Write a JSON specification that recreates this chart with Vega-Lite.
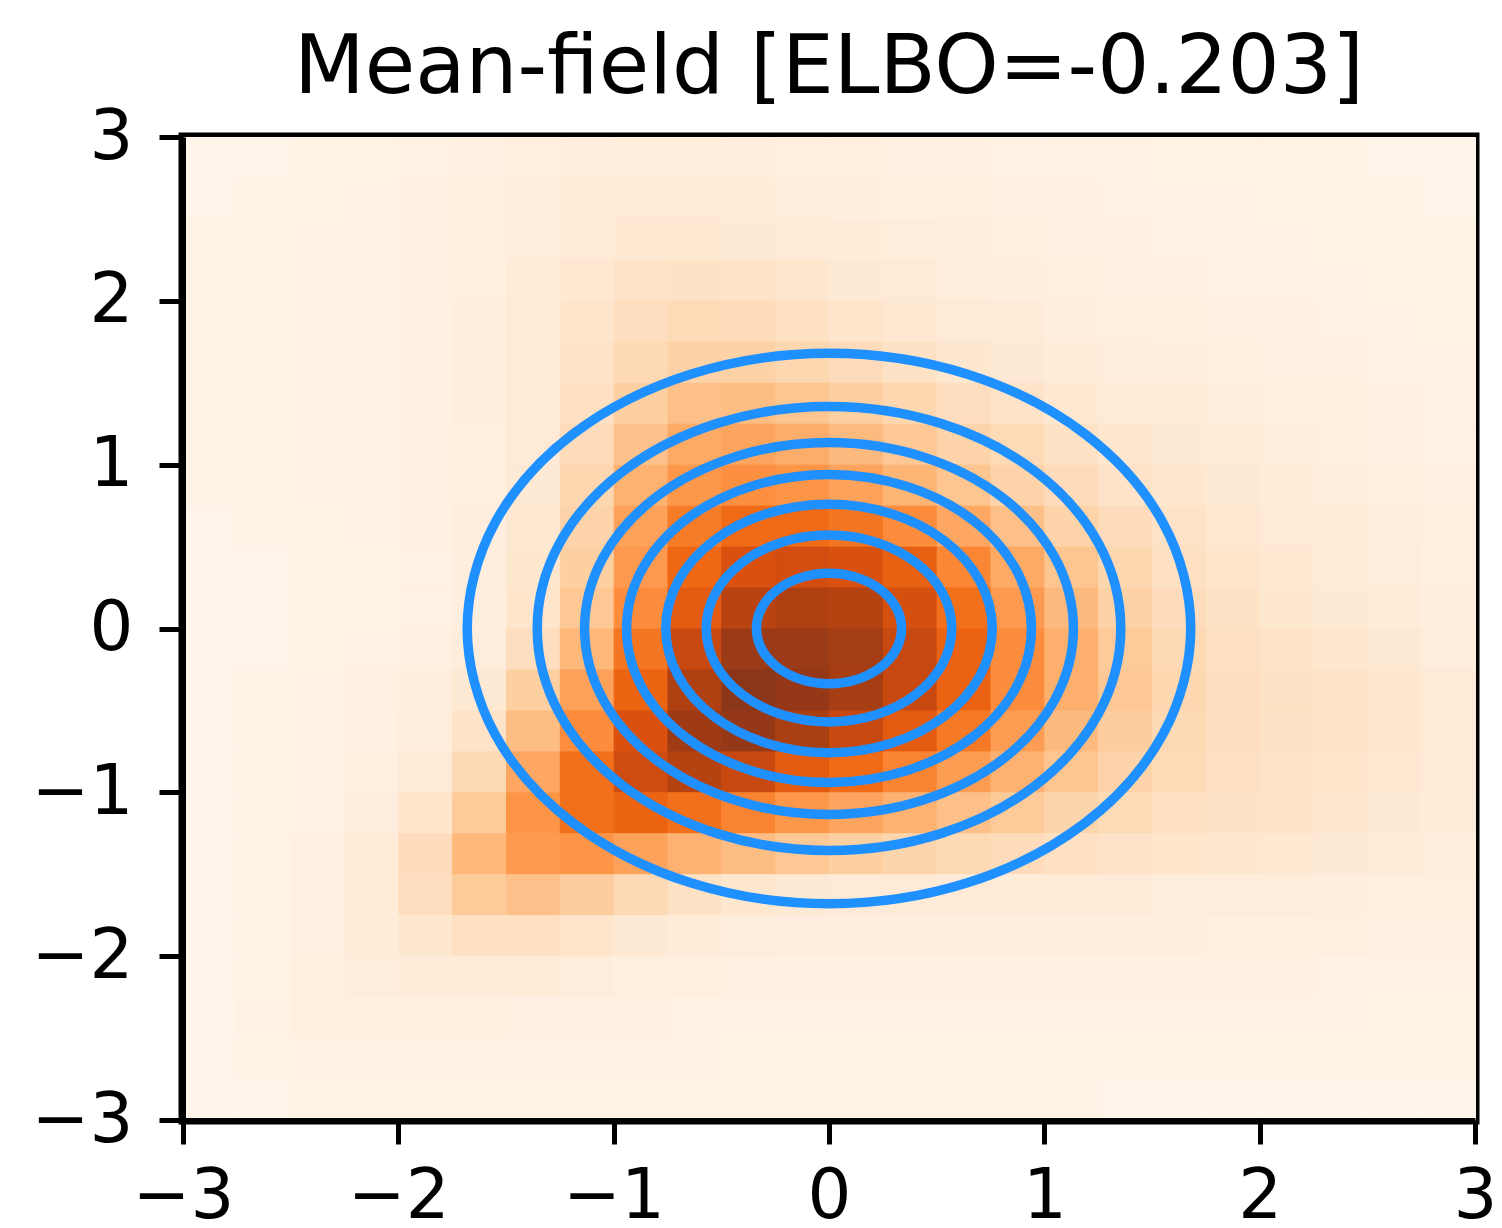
{
"$schema": "https://vega.github.io/schema/vega-lite/v6.json",
"width": 1292, "height": 983,
"autosize": {"type": "none"},
"padding": {"left": 183, "top": 137, "right": 27, "bottom": 108},
"background": "white",
"title": {"text": "Mean-field [ELBO=-0.203]", "fontSize": 82, "font": "DejaVu Sans", "fontWeight": "normal", "color": "black", "anchor": "middle", "baseline": "alphabetic", "offset": -72},
"config": {"view": {"stroke": "black", "strokeWidth": 9}, "axis": {"grid": false, "domain": true, "domainColor": "black", "domainWidth": 5, "labelFont": "DejaVu Sans", "labelFontSize": 69, "labelColor": "black", "tickColor": "black", "tickSize": 24, "tickWidth": 5, "labelFlush": false, "labelOverlap": false}},
"datasets": {
"grid": [
{"x":-3,"y":2.75,"v":0.01},{"x":-2.75,"y":2.75,"v":0.01},{"x":-2.5,"y":2.75,"v":0.02},{"x":-2.25,"y":2.75,"v":0.02},{"x":-2,"y":2.75,"v":0.03},{"x":-1.75,"y":2.75,"v":0.04},{"x":-1.5,"y":2.75,"v":0.05},{"x":-1.25,"y":2.75,"v":0.06},{"x":-1,"y":2.75,"v":0.07},{"x":-0.75,"y":2.75,"v":0.07},{"x":-0.5,"y":2.75,"v":0.06},{"x":-0.25,"y":2.75,"v":0.05},{"x":0,"y":2.75,"v":0.05},{"x":0.25,"y":2.75,"v":0.04},{"x":0.5,"y":2.75,"v":0.04},{"x":0.75,"y":2.75,"v":0.03},{"x":1,"y":2.75,"v":0.03},{"x":1.25,"y":2.75,"v":0.03},{"x":1.5,"y":2.75,"v":0.02},{"x":1.75,"y":2.75,"v":0.02},{"x":2,"y":2.75,"v":0.02},{"x":2.25,"y":2.75,"v":0.02},{"x":2.5,"y":2.75,"v":0.01},{"x":2.75,"y":2.75,"v":0.01},
{"x":-3,"y":2.5,"v":0.01},{"x":-2.75,"y":2.5,"v":0.02},{"x":-2.5,"y":2.5,"v":0.02},{"x":-2.25,"y":2.5,"v":0.03},{"x":-2,"y":2.5,"v":0.04},{"x":-1.75,"y":2.5,"v":0.05},{"x":-1.5,"y":2.5,"v":0.06},{"x":-1.25,"y":2.5,"v":0.08},{"x":-1,"y":2.5,"v":0.09},{"x":-0.75,"y":2.5,"v":0.09},{"x":-0.5,"y":2.5,"v":0.08},{"x":-0.25,"y":2.5,"v":0.07},{"x":0,"y":2.5,"v":0.06},{"x":0.25,"y":2.5,"v":0.05},{"x":0.5,"y":2.5,"v":0.05},{"x":0.75,"y":2.5,"v":0.04},{"x":1,"y":2.5,"v":0.04},{"x":1.25,"y":2.5,"v":0.03},{"x":1.5,"y":2.5,"v":0.03},{"x":1.75,"y":2.5,"v":0.03},{"x":2,"y":2.5,"v":0.02},{"x":2.25,"y":2.5,"v":0.02},{"x":2.5,"y":2.5,"v":0.02},{"x":2.75,"y":2.5,"v":0.01},
{"x":-3,"y":2.25,"v":0.02},{"x":-2.75,"y":2.25,"v":0.02},{"x":-2.5,"y":2.25,"v":0.03},{"x":-2.25,"y":2.25,"v":0.03},{"x":-2,"y":2.25,"v":0.04},{"x":-1.75,"y":2.25,"v":0.05},{"x":-1.5,"y":2.25,"v":0.07},{"x":-1.25,"y":2.25,"v":0.09},{"x":-1,"y":2.25,"v":0.11},{"x":-0.75,"y":2.25,"v":0.11},{"x":-0.5,"y":2.25,"v":0.1},{"x":-0.25,"y":2.25,"v":0.09},{"x":0,"y":2.25,"v":0.08},{"x":0.25,"y":2.25,"v":0.07},{"x":0.5,"y":2.25,"v":0.06},{"x":0.75,"y":2.25,"v":0.05},{"x":1,"y":2.25,"v":0.04},{"x":1.25,"y":2.25,"v":0.04},{"x":1.5,"y":2.25,"v":0.03},{"x":1.75,"y":2.25,"v":0.03},{"x":2,"y":2.25,"v":0.03},{"x":2.25,"y":2.25,"v":0.02},{"x":2.5,"y":2.25,"v":0.02},{"x":2.75,"y":2.25,"v":0.02},
{"x":-3,"y":2,"v":0.02},{"x":-2.75,"y":2,"v":0.02},{"x":-2.5,"y":2,"v":0.03},{"x":-2.25,"y":2,"v":0.03},{"x":-2,"y":2,"v":0.04},{"x":-1.75,"y":2,"v":0.05},{"x":-1.5,"y":2,"v":0.08},{"x":-1.25,"y":2,"v":0.11},{"x":-1,"y":2,"v":0.14},{"x":-0.75,"y":2,"v":0.15},{"x":-0.5,"y":2,"v":0.14},{"x":-0.25,"y":2,"v":0.12},{"x":0,"y":2,"v":0.1},{"x":0.25,"y":2,"v":0.09},{"x":0.5,"y":2,"v":0.07},{"x":0.75,"y":2,"v":0.06},{"x":1,"y":2,"v":0.05},{"x":1.25,"y":2,"v":0.04},{"x":1.5,"y":2,"v":0.04},{"x":1.75,"y":2,"v":0.03},{"x":2,"y":2,"v":0.03},{"x":2.25,"y":2,"v":0.03},{"x":2.5,"y":2,"v":0.02},{"x":2.75,"y":2,"v":0.02},
{"x":-3,"y":1.75,"v":0.02},{"x":-2.75,"y":1.75,"v":0.02},{"x":-2.5,"y":1.75,"v":0.03},{"x":-2.25,"y":1.75,"v":0.03},{"x":-2,"y":1.75,"v":0.04},{"x":-1.75,"y":1.75,"v":0.06},{"x":-1.5,"y":1.75,"v":0.09},{"x":-1.25,"y":1.75,"v":0.13},{"x":-1,"y":1.75,"v":0.17},{"x":-0.75,"y":1.75,"v":0.19},{"x":-0.5,"y":1.75,"v":0.18},{"x":-0.25,"y":1.75,"v":0.16},{"x":0,"y":1.75,"v":0.13},{"x":0.25,"y":1.75,"v":0.11},{"x":0.5,"y":1.75,"v":0.09},{"x":0.75,"y":1.75,"v":0.08},{"x":1,"y":1.75,"v":0.06},{"x":1.25,"y":1.75,"v":0.05},{"x":1.5,"y":1.75,"v":0.05},{"x":1.75,"y":1.75,"v":0.04},{"x":2,"y":1.75,"v":0.04},{"x":2.25,"y":1.75,"v":0.03},{"x":2.5,"y":1.75,"v":0.03},{"x":2.75,"y":1.75,"v":0.02},
{"x":-3,"y":1.5,"v":0.02},{"x":-2.75,"y":1.5,"v":0.02},{"x":-2.5,"y":1.5,"v":0.03},{"x":-2.25,"y":1.5,"v":0.03},{"x":-2,"y":1.5,"v":0.04},{"x":-1.75,"y":1.5,"v":0.06},{"x":-1.5,"y":1.5,"v":0.09},{"x":-1.25,"y":1.5,"v":0.14},{"x":-1,"y":1.5,"v":0.2},{"x":-0.75,"y":1.5,"v":0.24},{"x":-0.5,"y":1.5,"v":0.24},{"x":-0.25,"y":1.5,"v":0.21},{"x":0,"y":1.5,"v":0.18},{"x":0.25,"y":1.5,"v":0.15},{"x":0.5,"y":1.5,"v":0.12},{"x":0.75,"y":1.5,"v":0.1},{"x":1,"y":1.5,"v":0.08},{"x":1.25,"y":1.5,"v":0.07},{"x":1.5,"y":1.5,"v":0.06},{"x":1.75,"y":1.5,"v":0.05},{"x":2,"y":1.5,"v":0.04},{"x":2.25,"y":1.5,"v":0.04},{"x":2.5,"y":1.5,"v":0.03},{"x":2.75,"y":1.5,"v":0.03},
{"x":-3,"y":1.25,"v":0.02},{"x":-2.75,"y":1.25,"v":0.02},{"x":-2.5,"y":1.25,"v":0.03},{"x":-2.25,"y":1.25,"v":0.03},{"x":-2,"y":1.25,"v":0.04},{"x":-1.75,"y":1.25,"v":0.06},{"x":-1.5,"y":1.25,"v":0.09},{"x":-1.25,"y":1.25,"v":0.16},{"x":-1,"y":1.25,"v":0.25},{"x":-0.75,"y":1.25,"v":0.31},{"x":-0.5,"y":1.25,"v":0.32},{"x":-0.25,"y":1.25,"v":0.29},{"x":0,"y":1.25,"v":0.25},{"x":0.25,"y":1.25,"v":0.21},{"x":0.5,"y":1.25,"v":0.17},{"x":0.75,"y":1.25,"v":0.14},{"x":1,"y":1.25,"v":0.11},{"x":1.25,"y":1.25,"v":0.09},{"x":1.5,"y":1.25,"v":0.08},{"x":1.75,"y":1.25,"v":0.06},{"x":2,"y":1.25,"v":0.05},{"x":2.25,"y":1.25,"v":0.05},{"x":2.5,"y":1.25,"v":0.04},{"x":2.75,"y":1.25,"v":0.03},
{"x":-3,"y":1,"v":0.02},{"x":-2.75,"y":1,"v":0.02},{"x":-2.5,"y":1,"v":0.03},{"x":-2.25,"y":1,"v":0.03},{"x":-2,"y":1,"v":0.04},{"x":-1.75,"y":1,"v":0.05},{"x":-1.5,"y":1,"v":0.09},{"x":-1.25,"y":1,"v":0.18},{"x":-1,"y":1,"v":0.3},{"x":-0.75,"y":1,"v":0.39},{"x":-0.5,"y":1,"v":0.41},{"x":-0.25,"y":1,"v":0.38},{"x":0,"y":1,"v":0.33},{"x":0.25,"y":1,"v":0.28},{"x":0.5,"y":1,"v":0.23},{"x":0.75,"y":1,"v":0.19},{"x":1,"y":1,"v":0.15},{"x":1.25,"y":1,"v":0.12},{"x":1.5,"y":1,"v":0.1},{"x":1.75,"y":1,"v":0.08},{"x":2,"y":1,"v":0.07},{"x":2.25,"y":1,"v":0.05},{"x":2.5,"y":1,"v":0.04},{"x":2.75,"y":1,"v":0.03},
{"x":-3,"y":0.75,"v":0.02},{"x":-2.75,"y":0.75,"v":0.02},{"x":-2.5,"y":0.75,"v":0.03},{"x":-2.25,"y":0.75,"v":0.03},{"x":-2,"y":0.75,"v":0.04},{"x":-1.75,"y":0.75,"v":0.05},{"x":-1.5,"y":0.75,"v":0.1},{"x":-1.25,"y":0.75,"v":0.21},{"x":-1,"y":0.75,"v":0.36},{"x":-0.75,"y":0.75,"v":0.46},{"x":-0.5,"y":0.75,"v":0.49},{"x":-0.25,"y":0.75,"v":0.47},{"x":0,"y":0.75,"v":0.42},{"x":0.25,"y":0.75,"v":0.35},{"x":0.5,"y":0.75,"v":0.29},{"x":0.75,"y":0.75,"v":0.23},{"x":1,"y":0.75,"v":0.18},{"x":1.25,"y":0.75,"v":0.14},{"x":1.5,"y":0.75,"v":0.12},{"x":1.75,"y":0.75,"v":0.1},{"x":2,"y":0.75,"v":0.08},{"x":2.25,"y":0.75,"v":0.06},{"x":2.5,"y":0.75,"v":0.05},{"x":2.75,"y":0.75,"v":0.04},
{"x":-3,"y":0.5,"v":0.01},{"x":-2.75,"y":0.5,"v":0.02},{"x":-2.5,"y":0.5,"v":0.02},{"x":-2.25,"y":0.5,"v":0.03},{"x":-2,"y":0.5,"v":0.04},{"x":-1.75,"y":0.5,"v":0.06},{"x":-1.5,"y":0.5,"v":0.11},{"x":-1.25,"y":0.5,"v":0.23},{"x":-1,"y":0.5,"v":0.42},{"x":-0.75,"y":0.5,"v":0.56},{"x":-0.5,"y":0.5,"v":0.62},{"x":-0.25,"y":0.5,"v":0.62},{"x":0,"y":0.5,"v":0.58},{"x":0.25,"y":0.5,"v":0.5},{"x":0.5,"y":0.5,"v":0.4},{"x":0.75,"y":0.5,"v":0.31},{"x":1,"y":0.5,"v":0.23},{"x":1.25,"y":0.5,"v":0.18},{"x":1.5,"y":0.5,"v":0.14},{"x":1.75,"y":0.5,"v":0.11},{"x":2,"y":0.5,"v":0.09},{"x":2.25,"y":0.5,"v":0.08},{"x":2.5,"y":0.5,"v":0.06},{"x":2.75,"y":0.5,"v":0.05},
{"x":-3,"y":0.25,"v":0.01},{"x":-2.75,"y":0.25,"v":0.01},{"x":-2.5,"y":0.25,"v":0.02},{"x":-2.25,"y":0.25,"v":0.02},{"x":-2,"y":0.25,"v":0.03},{"x":-1.75,"y":0.25,"v":0.06},{"x":-1.5,"y":0.25,"v":0.12},{"x":-1.25,"y":0.25,"v":0.25},{"x":-1,"y":0.25,"v":0.45},{"x":-0.75,"y":0.25,"v":0.63},{"x":-0.5,"y":0.25,"v":0.75},{"x":-0.25,"y":0.25,"v":0.77},{"x":0,"y":0.25,"v":0.75},{"x":0.25,"y":0.25,"v":0.67},{"x":0.5,"y":0.25,"v":0.52},{"x":0.75,"y":0.25,"v":0.39},{"x":1,"y":0.25,"v":0.29},{"x":1.25,"y":0.25,"v":0.21},{"x":1.5,"y":0.25,"v":0.16},{"x":1.75,"y":0.25,"v":0.13},{"x":2,"y":0.25,"v":0.11},{"x":2.25,"y":0.25,"v":0.09},{"x":2.5,"y":0.25,"v":0.07},{"x":2.75,"y":0.25,"v":0.05},
{"x":-3,"y":0,"v":0.01},{"x":-2.75,"y":0,"v":0.01},{"x":-2.5,"y":0,"v":0.02},{"x":-2.25,"y":0,"v":0.02},{"x":-2,"y":0,"v":0.03},{"x":-1.75,"y":0,"v":0.06},{"x":-1.5,"y":0,"v":0.13},{"x":-1.25,"y":0,"v":0.28},{"x":-1,"y":0,"v":0.5},{"x":-0.75,"y":0,"v":0.7},{"x":-0.5,"y":0,"v":0.84},{"x":-0.25,"y":0,"v":0.87},{"x":0,"y":0,"v":0.85},{"x":0.25,"y":0,"v":0.76},{"x":0.5,"y":0,"v":0.6},{"x":0.75,"y":0,"v":0.45},{"x":1,"y":0,"v":0.33},{"x":1.25,"y":0,"v":0.24},{"x":1.5,"y":0,"v":0.18},{"x":1.75,"y":0,"v":0.15},{"x":2,"y":0,"v":0.12},{"x":2.25,"y":0,"v":0.1},{"x":2.5,"y":0,"v":0.08},{"x":2.75,"y":0,"v":0.06},
{"x":-3,"y":-0.25,"v":0.01},{"x":-2.75,"y":-0.25,"v":0.01},{"x":-2.5,"y":-0.25,"v":0.02},{"x":-2.25,"y":-0.25,"v":0.03},{"x":-2,"y":-0.25,"v":0.04},{"x":-1.75,"y":-0.25,"v":0.07},{"x":-1.5,"y":-0.25,"v":0.17},{"x":-1.25,"y":-0.25,"v":0.34},{"x":-1,"y":-0.25,"v":0.58},{"x":-0.75,"y":-0.25,"v":0.8},{"x":-0.5,"y":-0.25,"v":0.93},{"x":-0.25,"y":-0.25,"v":0.93},{"x":0,"y":-0.25,"v":0.9},{"x":0.25,"y":-0.25,"v":0.8},{"x":0.5,"y":-0.25,"v":0.66},{"x":0.75,"y":-0.25,"v":0.5},{"x":1,"y":-0.25,"v":0.37},{"x":1.25,"y":-0.25,"v":0.27},{"x":1.5,"y":-0.25,"v":0.2},{"x":1.75,"y":-0.25,"v":0.16},{"x":2,"y":-0.25,"v":0.14},{"x":2.25,"y":-0.25,"v":0.12},{"x":2.5,"y":-0.25,"v":0.1},{"x":2.75,"y":-0.25,"v":0.07},
{"x":-3,"y":-0.5,"v":0.01},{"x":-2.75,"y":-0.5,"v":0.02},{"x":-2.5,"y":-0.5,"v":0.03},{"x":-2.25,"y":-0.5,"v":0.04},{"x":-2,"y":-0.5,"v":0.06},{"x":-1.75,"y":-0.5,"v":0.1},{"x":-1.5,"y":-0.5,"v":0.25},{"x":-1.25,"y":-0.5,"v":0.42},{"x":-1,"y":-0.5,"v":0.65},{"x":-0.75,"y":-0.5,"v":0.87},{"x":-0.5,"y":-0.5,"v":0.98},{"x":-0.25,"y":-0.5,"v":0.95},{"x":0,"y":-0.5,"v":0.89},{"x":0.25,"y":-0.5,"v":0.8},{"x":0.5,"y":-0.5,"v":0.66},{"x":0.75,"y":-0.5,"v":0.5},{"x":1,"y":-0.5,"v":0.37},{"x":1.25,"y":-0.5,"v":0.28},{"x":1.5,"y":-0.5,"v":0.21},{"x":1.75,"y":-0.5,"v":0.17},{"x":2,"y":-0.5,"v":0.15},{"x":2.25,"y":-0.5,"v":0.14},{"x":2.5,"y":-0.5,"v":0.12},{"x":2.75,"y":-0.5,"v":0.09},
{"x":-3,"y":-0.75,"v":0.01},{"x":-2.75,"y":-0.75,"v":0.02},{"x":-2.5,"y":-0.75,"v":0.03},{"x":-2.25,"y":-0.75,"v":0.04},{"x":-2,"y":-0.75,"v":0.07},{"x":-1.75,"y":-0.75,"v":0.14},{"x":-1.5,"y":-0.75,"v":0.32},{"x":-1.25,"y":-0.75,"v":0.5},{"x":-1,"y":-0.75,"v":0.75},{"x":-0.75,"y":-0.75,"v":0.92},{"x":-0.5,"y":-0.75,"v":0.95},{"x":-0.25,"y":-0.75,"v":0.88},{"x":0,"y":-0.75,"v":0.8},{"x":0.25,"y":-0.75,"v":0.7},{"x":0.5,"y":-0.75,"v":0.57},{"x":0.75,"y":-0.75,"v":0.44},{"x":1,"y":-0.75,"v":0.33},{"x":1.25,"y":-0.75,"v":0.26},{"x":1.5,"y":-0.75,"v":0.2},{"x":1.75,"y":-0.75,"v":0.17},{"x":2,"y":-0.75,"v":0.15},{"x":2.25,"y":-0.75,"v":0.14},{"x":2.5,"y":-0.75,"v":0.12},{"x":2.75,"y":-0.75,"v":0.09},
{"x":-3,"y":-1,"v":0.01},{"x":-2.75,"y":-1,"v":0.02},{"x":-2.5,"y":-1,"v":0.03},{"x":-2.25,"y":-1,"v":0.05},{"x":-2,"y":-1,"v":0.09},{"x":-1.75,"y":-1,"v":0.2},{"x":-1.5,"y":-1,"v":0.4},{"x":-1.25,"y":-1,"v":0.6},{"x":-1,"y":-1,"v":0.78},{"x":-0.75,"y":-1,"v":0.85},{"x":-0.5,"y":-1,"v":0.8},{"x":-0.25,"y":-1,"v":0.7},{"x":0,"y":-1,"v":0.62},{"x":0.25,"y":-1,"v":0.53},{"x":0.5,"y":-1,"v":0.44},{"x":0.75,"y":-1,"v":0.36},{"x":1,"y":-1,"v":0.29},{"x":1.25,"y":-1,"v":0.23},{"x":1.5,"y":-1,"v":0.19},{"x":1.75,"y":-1,"v":0.16},{"x":2,"y":-1,"v":0.14},{"x":2.25,"y":-1,"v":0.13},{"x":2.5,"y":-1,"v":0.11},{"x":2.75,"y":-1,"v":0.09},
{"x":-3,"y":-1.25,"v":0.01},{"x":-2.75,"y":-1.25,"v":0.02},{"x":-2.5,"y":-1.25,"v":0.03},{"x":-2.25,"y":-1.25,"v":0.06},{"x":-2,"y":-1.25,"v":0.13},{"x":-1.75,"y":-1.25,"v":0.27},{"x":-1.5,"y":-1.25,"v":0.47},{"x":-1.25,"y":-1.25,"v":0.6},{"x":-1,"y":-1.25,"v":0.65},{"x":-0.75,"y":-1.25,"v":0.6},{"x":-0.5,"y":-1.25,"v":0.53},{"x":-0.25,"y":-1.25,"v":0.46},{"x":0,"y":-1.25,"v":0.41},{"x":0.25,"y":-1.25,"v":0.36},{"x":0.5,"y":-1.25,"v":0.31},{"x":0.75,"y":-1.25,"v":0.27},{"x":1,"y":-1.25,"v":0.22},{"x":1.25,"y":-1.25,"v":0.19},{"x":1.5,"y":-1.25,"v":0.16},{"x":1.75,"y":-1.25,"v":0.15},{"x":2,"y":-1.25,"v":0.14},{"x":2.25,"y":-1.25,"v":0.12},{"x":2.5,"y":-1.25,"v":0.1},{"x":2.75,"y":-1.25,"v":0.08},
{"x":-3,"y":-1.5,"v":0.01},{"x":-2.75,"y":-1.5,"v":0.02},{"x":-2.5,"y":-1.5,"v":0.04},{"x":-2.25,"y":-1.5,"v":0.08},{"x":-2,"y":-1.5,"v":0.18},{"x":-1.75,"y":-1.5,"v":0.34},{"x":-1.5,"y":-1.5,"v":0.45},{"x":-1.25,"y":-1.5,"v":0.47},{"x":-1,"y":-1.5,"v":0.42},{"x":-0.75,"y":-1.5,"v":0.36},{"x":-0.5,"y":-1.5,"v":0.32},{"x":-0.25,"y":-1.5,"v":0.28},{"x":0,"y":-1.5,"v":0.25},{"x":0.25,"y":-1.5,"v":0.22},{"x":0.5,"y":-1.5,"v":0.2},{"x":0.75,"y":-1.5,"v":0.18},{"x":1,"y":-1.5,"v":0.16},{"x":1.25,"y":-1.5,"v":0.14},{"x":1.5,"y":-1.5,"v":0.13},{"x":1.75,"y":-1.5,"v":0.12},{"x":2,"y":-1.5,"v":0.11},{"x":2.25,"y":-1.5,"v":0.1},{"x":2.5,"y":-1.5,"v":0.09},{"x":2.75,"y":-1.5,"v":0.07},
{"x":-3,"y":-1.75,"v":0.01},{"x":-2.75,"y":-1.75,"v":0.02},{"x":-2.5,"y":-1.75,"v":0.04},{"x":-2.25,"y":-1.75,"v":0.08},{"x":-2,"y":-1.75,"v":0.17},{"x":-1.75,"y":-1.75,"v":0.27},{"x":-1.5,"y":-1.75,"v":0.3},{"x":-1.25,"y":-1.75,"v":0.26},{"x":-1,"y":-1.75,"v":0.2},{"x":-0.75,"y":-1.75,"v":0.15},{"x":-0.5,"y":-1.75,"v":0.12},{"x":-0.25,"y":-1.75,"v":0.1},{"x":0,"y":-1.75,"v":0.09},{"x":0.25,"y":-1.75,"v":0.09},{"x":0.5,"y":-1.75,"v":0.09},{"x":0.75,"y":-1.75,"v":0.08},{"x":1,"y":-1.75,"v":0.08},{"x":1.25,"y":-1.75,"v":0.08},{"x":1.5,"y":-1.75,"v":0.07},{"x":1.75,"y":-1.75,"v":0.07},{"x":2,"y":-1.75,"v":0.07},{"x":2.25,"y":-1.75,"v":0.06},{"x":2.5,"y":-1.75,"v":0.05},{"x":2.75,"y":-1.75,"v":0.05},
{"x":-3,"y":-2,"v":0.01},{"x":-2.75,"y":-2,"v":0.02},{"x":-2.5,"y":-2,"v":0.04},{"x":-2.25,"y":-2,"v":0.08},{"x":-2,"y":-2,"v":0.12},{"x":-1.75,"y":-2,"v":0.16},{"x":-1.5,"y":-2,"v":0.16},{"x":-1.25,"y":-2,"v":0.13},{"x":-1,"y":-2,"v":0.1},{"x":-0.75,"y":-2,"v":0.08},{"x":-0.5,"y":-2,"v":0.07},{"x":-0.25,"y":-2,"v":0.06},{"x":0,"y":-2,"v":0.06},{"x":0.25,"y":-2,"v":0.06},{"x":0.5,"y":-2,"v":0.06},{"x":0.75,"y":-2,"v":0.06},{"x":1,"y":-2,"v":0.06},{"x":1.25,"y":-2,"v":0.06},{"x":1.5,"y":-2,"v":0.06},{"x":1.75,"y":-2,"v":0.05},{"x":2,"y":-2,"v":0.05},{"x":2.25,"y":-2,"v":0.05},{"x":2.5,"y":-2,"v":0.04},{"x":2.75,"y":-2,"v":0.04},
{"x":-3,"y":-2.25,"v":0.01},{"x":-2.75,"y":-2.25,"v":0.02},{"x":-2.5,"y":-2.25,"v":0.05},{"x":-2.25,"y":-2.25,"v":0.07},{"x":-2,"y":-2.25,"v":0.08},{"x":-1.75,"y":-2.25,"v":0.08},{"x":-1.5,"y":-2.25,"v":0.08},{"x":-1.25,"y":-2.25,"v":0.07},{"x":-1,"y":-2.25,"v":0.05},{"x":-0.75,"y":-2.25,"v":0.05},{"x":-0.5,"y":-2.25,"v":0.04},{"x":-0.25,"y":-2.25,"v":0.04},{"x":0,"y":-2.25,"v":0.04},{"x":0.25,"y":-2.25,"v":0.04},{"x":0.5,"y":-2.25,"v":0.04},{"x":0.75,"y":-2.25,"v":0.04},{"x":1,"y":-2.25,"v":0.04},{"x":1.25,"y":-2.25,"v":0.04},{"x":1.5,"y":-2.25,"v":0.04},{"x":1.75,"y":-2.25,"v":0.04},{"x":2,"y":-2.25,"v":0.04},{"x":2.25,"y":-2.25,"v":0.03},{"x":2.5,"y":-2.25,"v":0.03},{"x":2.75,"y":-2.25,"v":0.03},
{"x":-3,"y":-2.5,"v":0.01},{"x":-2.75,"y":-2.5,"v":0.03},{"x":-2.5,"y":-2.5,"v":0.05},{"x":-2.25,"y":-2.5,"v":0.05},{"x":-2,"y":-2.5,"v":0.05},{"x":-1.75,"y":-2.5,"v":0.05},{"x":-1.5,"y":-2.5,"v":0.04},{"x":-1.25,"y":-2.5,"v":0.04},{"x":-1,"y":-2.5,"v":0.04},{"x":-0.75,"y":-2.5,"v":0.03},{"x":-0.5,"y":-2.5,"v":0.03},{"x":-0.25,"y":-2.5,"v":0.03},{"x":0,"y":-2.5,"v":0.03},{"x":0.25,"y":-2.5,"v":0.03},{"x":0.5,"y":-2.5,"v":0.03},{"x":0.75,"y":-2.5,"v":0.03},{"x":1,"y":-2.5,"v":0.03},{"x":1.25,"y":-2.5,"v":0.03},{"x":1.5,"y":-2.5,"v":0.03},{"x":1.75,"y":-2.5,"v":0.03},{"x":2,"y":-2.5,"v":0.03},{"x":2.25,"y":-2.5,"v":0.03},{"x":2.5,"y":-2.5,"v":0.02},{"x":2.75,"y":-2.5,"v":0.02},
{"x":-3,"y":-2.75,"v":0.01},{"x":-2.75,"y":-2.75,"v":0.02},{"x":-2.5,"y":-2.75,"v":0.03},{"x":-2.25,"y":-2.75,"v":0.03},{"x":-2,"y":-2.75,"v":0.03},{"x":-1.75,"y":-2.75,"v":0.03},{"x":-1.5,"y":-2.75,"v":0.03},{"x":-1.25,"y":-2.75,"v":0.03},{"x":-1,"y":-2.75,"v":0.03},{"x":-0.75,"y":-2.75,"v":0.03},{"x":-0.5,"y":-2.75,"v":0.02},{"x":-0.25,"y":-2.75,"v":0.02},{"x":0,"y":-2.75,"v":0.02},{"x":0.25,"y":-2.75,"v":0.02},{"x":0.5,"y":-2.75,"v":0.02},{"x":0.75,"y":-2.75,"v":0.02},{"x":1,"y":-2.75,"v":0.02},{"x":1.25,"y":-2.75,"v":0.02},{"x":1.5,"y":-2.75,"v":0.02},{"x":1.75,"y":-2.75,"v":0.02},{"x":2,"y":-2.75,"v":0.02},{"x":2.25,"y":-2.75,"v":0.02},{"x":2.5,"y":-2.75,"v":0.02},{"x":2.75,"y":-2.75,"v":0.02},
{"x":-3,"y":-3,"v":0.01},{"x":-2.75,"y":-3,"v":0.01},{"x":-2.5,"y":-3,"v":0.02},{"x":-2.25,"y":-3,"v":0.02},{"x":-2,"y":-3,"v":0.02},{"x":-1.75,"y":-3,"v":0.02},{"x":-1.5,"y":-3,"v":0.02},{"x":-1.25,"y":-3,"v":0.02},{"x":-1,"y":-3,"v":0.02},{"x":-0.75,"y":-3,"v":0.02},{"x":-0.5,"y":-3,"v":0.02},{"x":-0.25,"y":-3,"v":0.02},{"x":0,"y":-3,"v":0.02},{"x":0.25,"y":-3,"v":0.02},{"x":0.5,"y":-3,"v":0.02},{"x":0.75,"y":-3,"v":0.02},{"x":1,"y":-3,"v":0.02},{"x":1.25,"y":-3,"v":0.01},{"x":1.5,"y":-3,"v":0.01},{"x":1.75,"y":-3,"v":0.01},{"x":2,"y":-3,"v":0.01},{"x":2.25,"y":-3,"v":0.01},{"x":2.5,"y":-3,"v":0.01},{"x":2.75,"y":-3,"v":0.01}
],
"rings": [
{"c":1,"k":0,"x":1.68,"y":0},{"c":1,"k":1,"x":1.5522,"y":0.6429},{"c":1,"k":2,"x":1.1879,"y":1.1879},{"c":1,"k":3,"x":0.6429,"y":1.5522},{"c":1,"k":4,"x":0,"y":1.68},{"c":1,"k":5,"x":-0.6429,"y":1.5522},{"c":1,"k":6,"x":-1.1879,"y":1.1879},{"c":1,"k":7,"x":-1.5522,"y":0.6429},{"c":1,"k":8,"x":-1.68,"y":0},{"c":1,"k":9,"x":-1.5522,"y":-0.6429},{"c":1,"k":10,"x":-1.1879,"y":-1.1879},{"c":1,"k":11,"x":-0.6429,"y":-1.5522},{"c":1,"k":12,"x":0,"y":-1.68},{"c":1,"k":13,"x":0.6429,"y":-1.5522},{"c":1,"k":14,"x":1.1879,"y":-1.1879},{"c":1,"k":15,"x":1.5522,"y":-0.6429},
{"c":2,"k":0,"x":1.355,"y":0},{"c":2,"k":1,"x":1.2519,"y":0.5186},{"c":2,"k":2,"x":0.9581,"y":0.9581},{"c":2,"k":3,"x":0.5186,"y":1.2519},{"c":2,"k":4,"x":0,"y":1.355},{"c":2,"k":5,"x":-0.5186,"y":1.2519},{"c":2,"k":6,"x":-0.9581,"y":0.9581},{"c":2,"k":7,"x":-1.2519,"y":0.5186},{"c":2,"k":8,"x":-1.355,"y":0},{"c":2,"k":9,"x":-1.2519,"y":-0.5186},{"c":2,"k":10,"x":-0.9581,"y":-0.9581},{"c":2,"k":11,"x":-0.5186,"y":-1.2519},{"c":2,"k":12,"x":0,"y":-1.355},{"c":2,"k":13,"x":0.5186,"y":-1.2519},{"c":2,"k":14,"x":0.9581,"y":-0.9581},{"c":2,"k":15,"x":1.2519,"y":-0.5186},
{"c":3,"k":0,"x":1.135,"y":0},{"c":3,"k":1,"x":1.0486,"y":0.4344},{"c":3,"k":2,"x":0.8026,"y":0.8026},{"c":3,"k":3,"x":0.4344,"y":1.0486},{"c":3,"k":4,"x":0,"y":1.135},{"c":3,"k":5,"x":-0.4344,"y":1.0486},{"c":3,"k":6,"x":-0.8026,"y":0.8026},{"c":3,"k":7,"x":-1.0486,"y":0.4344},{"c":3,"k":8,"x":-1.135,"y":0},{"c":3,"k":9,"x":-1.0486,"y":-0.4344},{"c":3,"k":10,"x":-0.8026,"y":-0.8026},{"c":3,"k":11,"x":-0.4344,"y":-1.0486},{"c":3,"k":12,"x":0,"y":-1.135},{"c":3,"k":13,"x":0.4344,"y":-1.0486},{"c":3,"k":14,"x":0.8026,"y":-0.8026},{"c":3,"k":15,"x":1.0486,"y":-0.4344},
{"c":4,"k":0,"x":0.94,"y":0},{"c":4,"k":1,"x":0.8685,"y":0.3597},{"c":4,"k":2,"x":0.6647,"y":0.6647},{"c":4,"k":3,"x":0.3597,"y":0.8685},{"c":4,"k":4,"x":0,"y":0.94},{"c":4,"k":5,"x":-0.3597,"y":0.8685},{"c":4,"k":6,"x":-0.6647,"y":0.6647},{"c":4,"k":7,"x":-0.8685,"y":0.3597},{"c":4,"k":8,"x":-0.94,"y":0},{"c":4,"k":9,"x":-0.8685,"y":-0.3597},{"c":4,"k":10,"x":-0.6647,"y":-0.6647},{"c":4,"k":11,"x":-0.3597,"y":-0.8685},{"c":4,"k":12,"x":0,"y":-0.94},{"c":4,"k":13,"x":0.3597,"y":-0.8685},{"c":4,"k":14,"x":0.6647,"y":-0.6647},{"c":4,"k":15,"x":0.8685,"y":-0.3597},
{"c":5,"k":0,"x":0.758,"y":0},{"c":5,"k":1,"x":0.7003,"y":0.2901},{"c":5,"k":2,"x":0.536,"y":0.536},{"c":5,"k":3,"x":0.2901,"y":0.7003},{"c":5,"k":4,"x":0,"y":0.758},{"c":5,"k":5,"x":-0.2901,"y":0.7003},{"c":5,"k":6,"x":-0.536,"y":0.536},{"c":5,"k":7,"x":-0.7003,"y":0.2901},{"c":5,"k":8,"x":-0.758,"y":0},{"c":5,"k":9,"x":-0.7003,"y":-0.2901},{"c":5,"k":10,"x":-0.536,"y":-0.536},{"c":5,"k":11,"x":-0.2901,"y":-0.7003},{"c":5,"k":12,"x":0,"y":-0.758},{"c":5,"k":13,"x":0.2901,"y":-0.7003},{"c":5,"k":14,"x":0.536,"y":-0.536},{"c":5,"k":15,"x":0.7003,"y":-0.2901},
{"c":6,"k":0,"x":0.57,"y":0},{"c":6,"k":1,"x":0.5266,"y":0.2181},{"c":6,"k":2,"x":0.403,"y":0.403},{"c":6,"k":3,"x":0.2181,"y":0.5266},{"c":6,"k":4,"x":0,"y":0.57},{"c":6,"k":5,"x":-0.2181,"y":0.5266},{"c":6,"k":6,"x":-0.403,"y":0.403},{"c":6,"k":7,"x":-0.5266,"y":0.2181},{"c":6,"k":8,"x":-0.57,"y":0},{"c":6,"k":9,"x":-0.5266,"y":-0.2181},{"c":6,"k":10,"x":-0.403,"y":-0.403},{"c":6,"k":11,"x":-0.2181,"y":-0.5266},{"c":6,"k":12,"x":0,"y":-0.57},{"c":6,"k":13,"x":0.2181,"y":-0.5266},{"c":6,"k":14,"x":0.403,"y":-0.403},{"c":6,"k":15,"x":0.5266,"y":-0.2181},
{"c":7,"k":0,"x":0.337,"y":0},{"c":7,"k":1,"x":0.3114,"y":0.129},{"c":7,"k":2,"x":0.2383,"y":0.2383},{"c":7,"k":3,"x":0.129,"y":0.3114},{"c":7,"k":4,"x":0,"y":0.337},{"c":7,"k":5,"x":-0.129,"y":0.3114},{"c":7,"k":6,"x":-0.2383,"y":0.2383},{"c":7,"k":7,"x":-0.3114,"y":0.129},{"c":7,"k":8,"x":-0.337,"y":0},{"c":7,"k":9,"x":-0.3114,"y":-0.129},{"c":7,"k":10,"x":-0.2383,"y":-0.2383},{"c":7,"k":11,"x":-0.129,"y":-0.3114},{"c":7,"k":12,"x":0,"y":-0.337},{"c":7,"k":13,"x":0.129,"y":-0.3114},{"c":7,"k":14,"x":0.2383,"y":-0.2383},{"c":7,"k":15,"x":0.3114,"y":-0.129}
]
},
"layer": [
{"data": {"name": "grid"},
 "mark": {"type": "rect", "strokeWidth": 1},
 "encoding": {
  "x": {"field": "x", "type": "quantitative", "bin": {"binned": true, "step": 0.25}, "scale": {"domain": [-3, 3], "nice": false, "zero": false}, "axis": {"title": null, "values": [-3, -2, -1, 0, 1, 2, 3], "format": "d", "labelPadding": 18}},
  "y": {"field": "y", "type": "quantitative", "bin": {"binned": true, "step": 0.25}, "scale": {"domain": [-3, 3], "nice": false, "zero": false}, "axis": {"title": null, "values": [-3, -2, -1, 0, 1, 2, 3], "format": "d", "labelPadding": 26}},
  "color": {"field": "v", "type": "quantitative", "scale": {"domain": [0, 0.125, 0.25, 0.375, 0.5, 0.625, 0.75, 0.875, 1], "range": ["#fff5eb", "#fee6ce", "#fdd0a2", "#fdae6b", "#fd8d3c", "#f16913", "#d9500f", "#ac3f12", "#86341a"], "interpolate": "rgb"}, "legend": null},
  "stroke": {"field": "v", "type": "quantitative", "scale": {"domain": [0, 0.125, 0.25, 0.375, 0.5, 0.625, 0.75, 0.875, 1], "range": ["#fff5eb", "#fee6ce", "#fdd0a2", "#fdae6b", "#fd8d3c", "#f16913", "#d9500f", "#ac3f12", "#86341a"], "interpolate": "rgb"}, "legend": null}
 }},
{"data": {"name": "rings"},
 "mark": {"type": "line", "interpolate": "cardinal-closed", "strokeWidth": 9.5, "color": "#1e90ff"},
 "encoding": {
  "x": {"field": "x", "type": "quantitative"},
  "y": {"field": "y", "type": "quantitative"},
  "detail": {"field": "c", "type": "nominal"},
  "order": {"field": "k", "type": "quantitative"}
 }}
]
}
